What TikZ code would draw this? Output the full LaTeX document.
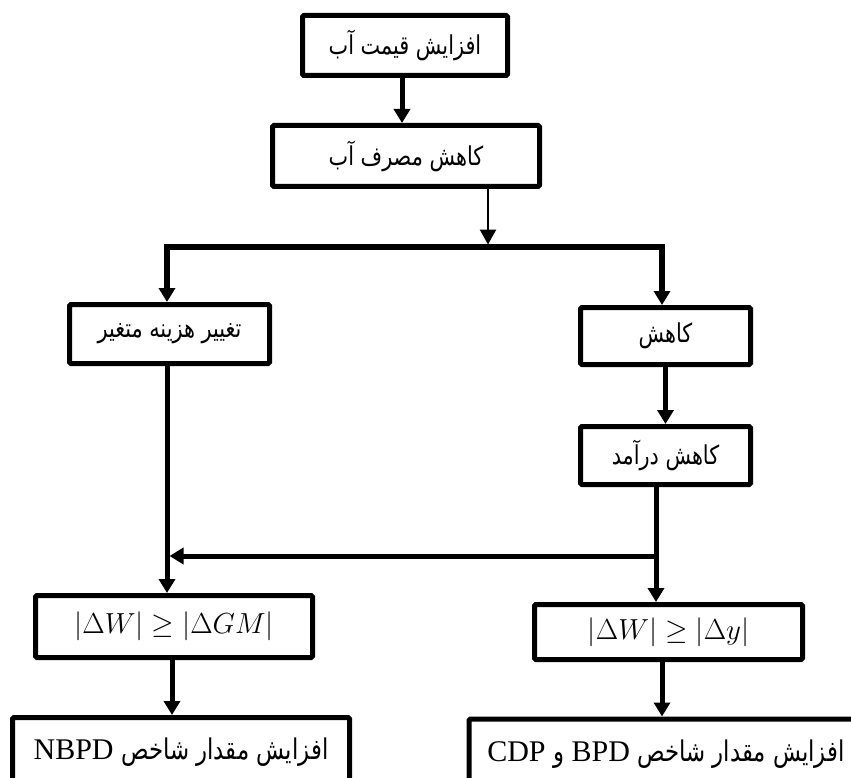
\RequirePackage{fix-cm}
\documentclass[tikz,border=0pt]{standalone}
\usepackage[no-math]{fontspec}
\setmainfont{Liberation Serif}
\newfontfamily\fa[Script=Arabic, FakeStretch=0.8]{DejaVu Sans}
\TeXXeTstate=1
\usetikzlibrary{arrows.meta}
\newcommand{\fsz}{\fontsize{26}{32}\selectfont}
\newcommand{\bsz}{\fontsize{28.5}{34}\selectfont}
\newcommand{\lsz}{\fontsize{30}{36}\selectfont}
\newcommand{\msz}{\fontsize{29}{35}\selectfont}
\begin{document}
\begin{tikzpicture}[x=1pt,y=-1pt,
  box/.style={draw, line width=5pt, rounded corners=1.5pt, inner sep=0pt, align=center, font=\fsz},
  thickarr/.style={line width=5pt, -{Triangle[length=14pt,width=16pt]}},
  thinarr/.style={line width=2.5pt, -{Triangle[length=15pt,width=16pt]}},
  tipboth/.style={line width=5.5pt, {Triangle[length=14pt,width=16pt]}-{Triangle[length=14pt,width=16pt]}}]
\useasboundingbox (0,0) rectangle (851,778);
\clip (0,0) rectangle (851,778);

\node[box, minimum width=205pt, minimum height=60pt] (n1) at (405,45.5) {\fa\beginR افزایش قیمت آب\endR};
\node[box, minimum width=267pt, minimum height=61pt] (n2) at (406,156) {\fa\beginR کاهش مصرف آب\endR};
\node[box, minimum width=200pt, minimum height=59pt] (n3) at (169.5,334) {\fa\beginR تغییر هزینه متغیر\endR};
\node[box, minimum width=170pt, minimum height=57pt] (n4) at (665.5,336) {\fa\beginR کاهش\endR};
\node[box, minimum width=170pt, minimum height=58pt] (n5) at (665.5,455.5) {\fa\beginR کاهش درآمد\endR};
\node[box, minimum width=277pt, minimum height=62pt, font=\msz] (n6) at (174,626.5) {$|\Delta W| \geq |\Delta GM|$};
\node[box, minimum width=268pt, minimum height=55pt, font=\msz] (n7) at (668.5,632) {$|\Delta W| \geq |\Delta y|$};
\node[box, minimum width=337pt, minimum height=70pt, font=\lsz] (n8) at (181,752.5)
  {\beginR{\bsz\fa افزایش مقدار شاخص} \beginL NBPD\endL\endR};
\node[box, minimum width=394pt, minimum height=70pt, font=\lsz] (n9) at (666,754)
  {\beginR{\bsz\fa افزایش مقدار شاخص} \beginL BPD\endL{} {\bsz\fa و} \beginL CDP\endL\endR};

\coordinate (cA) at (402,0);
\coordinate (cB) at (488,244.5);
\coordinate (hl1) at (167,247);
\coordinate (hr1) at (662,247);
\coordinate (vR2) at (656,556);
\coordinate (hL) at (169.5,556);
\coordinate (cC) at (172,0);
\coordinate (cD) at (662,0);

\draw[thickarr] (n1.south -| cA) -- (n2.north -| cA);
\draw[thinarr] (n2.south -| cB) -- (cB);
\draw[tipboth] (n3.north -| hl1) -- (hl1) -- (hr1) -- (n4.north -| hr1);
\draw[thickarr] (n4) -- (n5);
\draw[thickarr] (n3.south -| hl1) -- (n6.north -| hl1);
\draw[thickarr] (n5.south -| vR2) -- (n7.north -| vR2);
\draw[thickarr] (vR2) -- (hL);
\draw[thickarr] (n6.south -| cC) -- (n8.north -| cC);
\draw[thickarr] (n7.south -| cD) -- (n9.north -| cD);
\end{tikzpicture}
\end{document}
